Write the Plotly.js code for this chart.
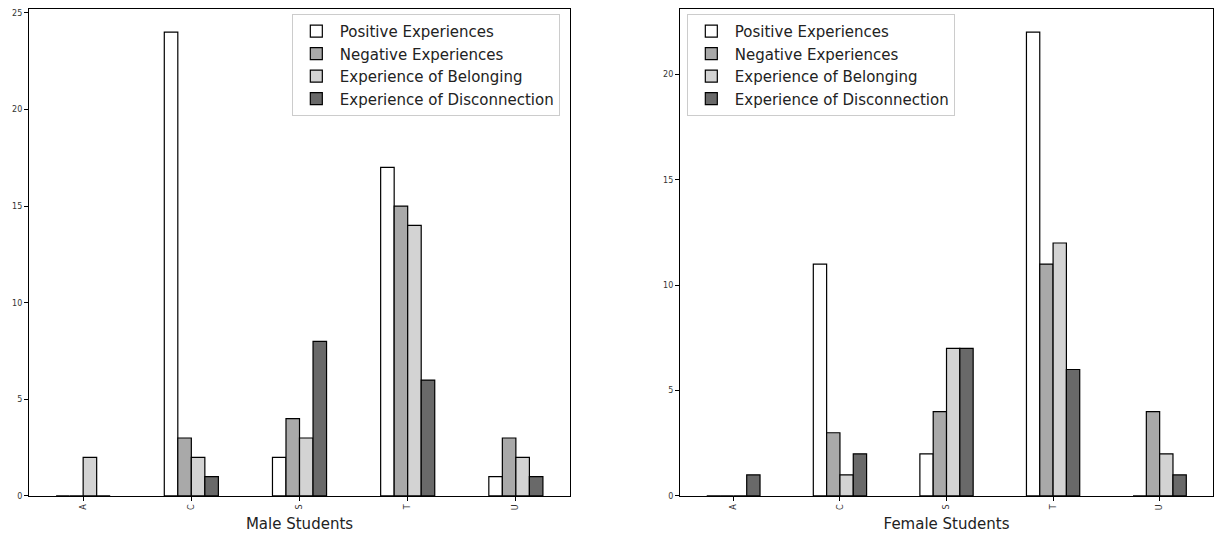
<!DOCTYPE html>
<html><head><meta charset="utf-8">
<script src="https://cdn.plot.ly/plotly-3.0.1.min.js"></script>
<style>html,body{margin:0;padding:0;background:#fff}#chart{width:1221px;height:537px}</style>
</head><body><div id="chart"></div>
<script>
const categories = ["A", "C", "S", "T", "U"];
const seriesNames = ["Positive Experiences", "Negative Experiences", "Experience of Belonging", "Experience of Disconnection"];
const malePositive = [0, 24, 2, 17, 1];
const maleNegative = [0, 3, 4, 15, 3];
const maleBelonging = [2, 2, 3, 14, 2];
const maleDisconnection = [0, 1, 8, 6, 1];
const femalePositive = [0, 11, 2, 22, 0];
const femaleNegative = [0, 3, 4, 11, 4];
const femaleBelonging = [0, 1, 7, 12, 2];
const femaleDisconnection = [1, 2, 7, 6, 1];
const yTicksMale = [0, 5, 10, 15, 20, 25];
const yTicksFemale = [0, 5, 10, 15, 20];

const fills = ["#ffffff", "#a9a9a9", "#d3d3d3", "#696969"];
const maleData = [malePositive, maleNegative, maleBelonging, maleDisconnection];
const femaleData = [femalePositive, femaleNegative, femaleBelonging, femaleDisconnection];

const traces = [];
maleData.forEach((vals, i) => {
  traces.push({type: "bar", x: categories, y: vals, name: seriesNames[i], xaxis: "x", yaxis: "y",
    marker: {color: fills[i], line: {color: "#000", width: 1.2}}, legend: "legend", hoverinfo: "y"});
});
femaleData.forEach((vals, i) => {
  traces.push({type: "bar", x: categories, y: vals, name: seriesNames[i], xaxis: "x2", yaxis: "y2",
    marker: {color: fills[i], line: {color: "#000", width: 1.2}}, legend: "legend2", hoverinfo: "y"});
});

const axisCommon = {showgrid: false, zeroline: false, showline: true, linecolor: "#000", linewidth: 1.2, mirror: true,
  ticks: "outside", ticklen: 4, tickcolor: "#000", tickwidth: 1};
const xCommon = Object.assign({}, axisCommon, {type: "category", range: [-0.5, 4.5], tickangle: -90,
  tickfont: {size: 8, color: "#333"}, title: {font: {size: 15, color: "#222"}, standoff: 9}});
const yCommon = Object.assign({}, axisCommon, {tickfont: {size: 8, color: "#333"}, tickmode: "array"});

const legendCommon = {bgcolor: "rgba(255,255,255,0.8)", bordercolor: "#cccccc", borderwidth: 1,
  font: {family: "DejaVu Sans", size: 15, color: "#222"}, xanchor: "left", yanchor: "top", tracegroupgap: 0, itemwidth: 37};

const layout = {
  width: 1221, height: 537, margin: {l: 0, r: 0, t: 0, b: 0},
  paper_bgcolor: "#fff", plot_bgcolor: "#fff",
  font: {family: "DejaVu Sans", color: "#222"},
  barmode: "group", bargap: 0.5, bargroupgap: 0,
  xaxis: Object.assign({}, xCommon, {domain: [0.0238, 0.4668], anchor: "y", title: Object.assign({}, xCommon.title, {text: "Male Students"})}),
  yaxis: Object.assign({}, yCommon, {domain: [0.0764, 0.9832], anchor: "x", range: [0, 25.2], tickvals: yTicksMale}),
  xaxis2: Object.assign({}, xCommon, {domain: [0.557, 0.9934], anchor: "y2", title: Object.assign({}, xCommon.title, {text: "Female Students"})}),
  yaxis2: Object.assign({}, yCommon, {domain: [0.0764, 0.9832], anchor: "x2", range: [0, 23.1], tickvals: yTicksFemale}),
  legend: Object.assign({}, legendCommon, {x: 0.239, y: 0.974}),
  legend2: Object.assign({}, legendCommon, {x: 0.5625, y: 0.974}),
  showlegend: true
};

Plotly.newPlot("chart", traces, layout, {displayModeBar: false, staticPlot: true});
</script></body></html>
